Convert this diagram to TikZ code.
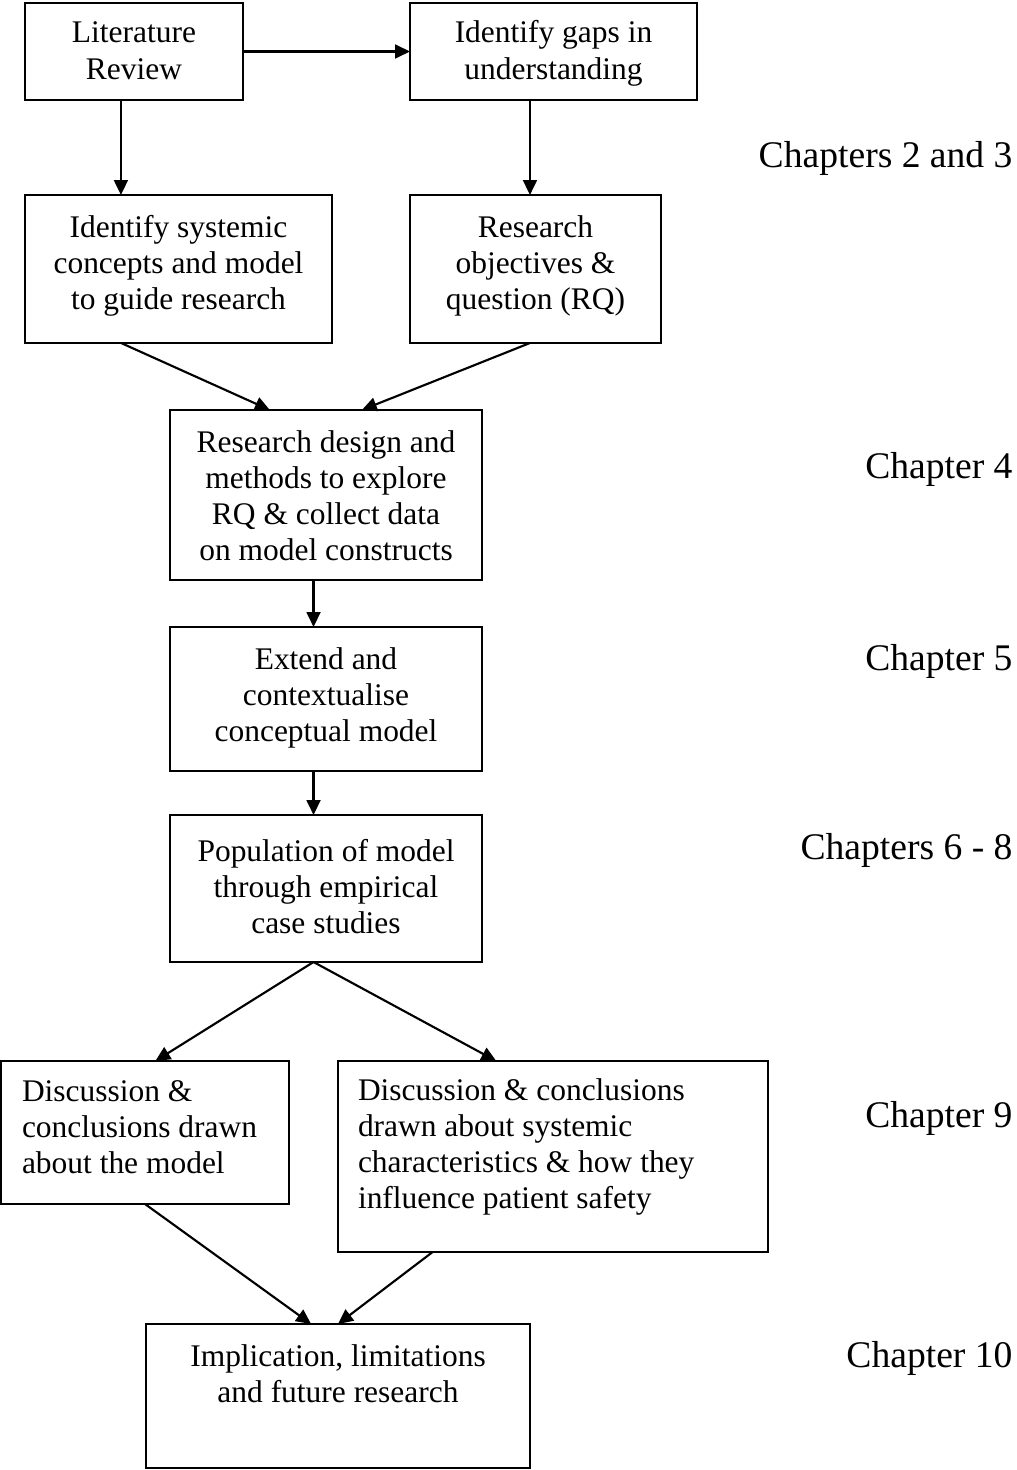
\documentclass[tikz,border=0pt]{standalone}
\usepackage{fontspec}
\setmainfont{Liberation Serif}
\usetikzlibrary{arrows.meta,calc}

% one drawing unit
\newdimen\unitpx \unitpx=0.375pt
% fixed-size box text: width, height, top pad, text (centred)
\newcommand\ctrbox[4]{\parbox[c][#2\unitpx][t]{#1\unitpx}{\vspace*{#3\unitpx}\centering\rule{0pt}{25\unitpx}#4}}
% fixed-size box text: width, height, top pad, left indent, text (flush left)
\newcommand\lftbox[5]{\parbox[c][#2\unitpx][t]{#1\unitpx}{\vspace*{#3\unitpx}\raggedright\leftskip=#4\unitpx\rule{0pt}{25\unitpx}#5}}

\begin{document}
\begin{tikzpicture}[x=0.375pt,y=-0.375pt,
  box/.style={draw,line width=0.8pt,inner sep=0pt,outer sep=0pt,anchor=north west,
              font=\fontsize{11.8pt}{13.6pt}\selectfont},
  chap/.style={anchor=base east,inner sep=0pt,font=\fontsize{14.1pt}{16pt}\selectfont},
  arr/.style={line width=0.8pt,-{Triangle[length=5.6pt,width=5.2pt]}}]
\useasboundingbox (0,0) rectangle (1016,1470);

% process boxes
\node[box] (lit)  at (25,3)    {\ctrbox{218}{97}{15}{Literature\\Review}};
\node[box] (gaps) at (410,3)   {\ctrbox{287}{97}{15}{Identify gaps in\\understanding}};
\node[box] (sys)  at (25,195)  {\ctrbox{307}{148}{17}{Identify systemic\\concepts and model\\to guide research}};
\node[box] (rq)   at (410,195) {\ctrbox{251}{148}{17}{Research\\objectives \&\\question (RQ)}};
\node[box] (des)  at (170,410) {\ctrbox{312}{170}{17}{Research design and\\methods to explore\\RQ \& collect data\\on model constructs}};
\node[box] (ext)  at (170,627) {\ctrbox{312}{144}{17}{Extend and\\contextualise\\conceptual model}};
\node[box] (pop)  at (170,815) {\ctrbox{312}{147}{21}{Population of model\\through empirical\\case studies}};
\node[box] (dl)   at (1,1061)  {\lftbox{288}{143}{15}{21}{Discussion \&\\conclusions drawn\\about the model}};
\node[box] (dr)   at (338,1061){\lftbox{430}{191}{14}{20}{Discussion \& conclusions\\drawn about systemic\\characteristics \& how they\\influence patient safety}};
\node[box] (imp)  at (146,1324){\ctrbox{384}{144}{17}{Implication, limitations\\and future research}};

% chapter labels
\node[chap] (c23)  at (1013,167)  {Chapters 2 and 3};
\node[chap] (c4)   at (1013,478)  {Chapter 4};
\node[chap] (c5)   at (1013,670)  {Chapter 5};
\node[chap] (c68)  at (1013,859)  {Chapters 6 - 8};
\node[chap] (c9)   at (1013,1127) {Chapter 9};
\node[chap] (c10)  at (1013,1367) {Chapter 10};

% connectors
\draw[arr] (lit.east) -- (gaps.west);
\draw[arr] ($(lit.south west)!0.44!(lit.south east)$) coordinate (p1) -- (p1 |- sys.north);
\draw[arr] ($(gaps.south west)!0.418!(gaps.south east)$) coordinate (p2) -- (p2 |- rq.north);
\draw[arr] ($(sys.south west)!0.313!(sys.south east)$) -- ($(des.north west)!0.32!(des.north east)$);
\draw[arr] ($(rq.south west)!0.478!(rq.south east)$) -- ($(des.north west)!0.615!(des.north east)$);
\draw[arr] ($(des.south west)!0.46!(des.south east)$) coordinate (p3) -- (p3 |- ext.north);
\draw[arr] ($(ext.south west)!0.46!(ext.south east)$) coordinate (p4) -- (p4 |- pop.north);
\draw[arr] ($(pop.south west)!0.46!(pop.south east)$) coordinate (p5) -- ($(dl.north west)!0.536!(dl.north east)$);
\draw[arr] (p5) -- ($(dr.north west)!0.368!(dr.north east)$);
\draw[arr] (dl.south) -- ($(imp.north west)!0.43!(imp.north east)$);
\draw[arr] ($(dr.south west)!0.22!(dr.south east)$) -- ($(imp.north west)!0.5!(imp.north east)$);
\end{tikzpicture}
\end{document}
